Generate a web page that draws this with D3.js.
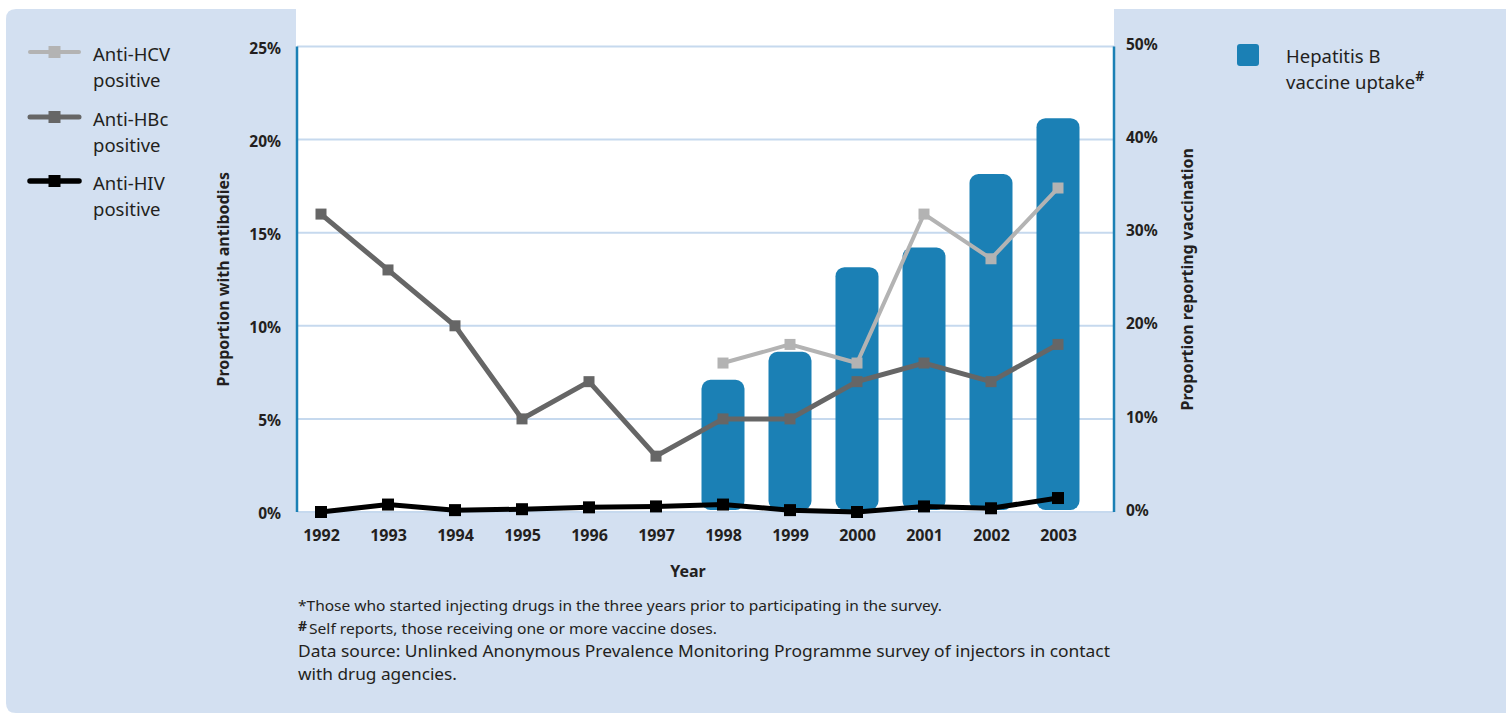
<!DOCTYPE html>
<html>
<head>
<meta charset="utf-8">
<script src="https://cdn.jsdelivr.net/npm/d3@7"></script>
<style>
  html, body { margin: 0; padding: 0; background: #ffffff; }
  svg { display: block; }
  text { font-family: "Noto Sans", "Open Sans", sans-serif; fill: #231f20; }
</style>
</head>
<body>
<svg id="chart" width="1506" height="713"></svg>
<script>
// Survey years
const years = [1992, 1993, 1994, 1995, 1996, 1997, 1998, 1999, 2000, 2001, 2002, 2003];

// Antibody prevalence (% of recent injectors), left axis
const antiHCV = [null, null, null, null, null, null, 8, 9, 8, 16, 13.6, 17.4];
const antiHBc = [16, 13, 10, 5, 7, 3, 5, 5, 7, 8, 7, 9];
const antiHIV = [0, 0.4, 0.1, 0.15, 0.25, 0.3, 0.4, 0.1, 0, 0.3, 0.2, 0.75];

// Hepatitis B vaccine uptake (% reporting vaccination), right axis
const vaccineYears = [1998, 1999, 2000, 2001, 2002, 2003];
const vaccineUptake = [14.2, 17.2, 26.3, 28.4, 36.3, 42.3];

// Axis ticks
const leftTicks = [0, 5, 10, 15, 20, 25];
const rightTicks = [0, 10, 20, 30, 40, 50];

// Legend entries
const lineLegend = [
  { name: ["Anti-HCV", "positive"], color: "#b3b3b3", width: 4 },
  { name: ["Anti-HBc", "positive"], color: "#666666", width: 5 },
  { name: ["Anti-HIV", "positive"], color: "#000000", width: 5.5 }
];

const footnotes = [
  { text: "*Those who started injecting drugs in the three years prior to participating in the survey.", size: 15, len: 644 },
  { text: "Self reports, those receiving one or more vaccine doses.", size: 15, len: 408, hash: true },
  { text: "Data source: Unlinked Anonymous Prevalence Monitoring Programme survey of injectors in contact", size: 16.5, len: 812 },
  { text: "with drug agencies.", size: 16.5, len: 159 }
];

const svg = d3.select("#chart");
const panelColor = "#d3e0f1";
const blue = "#1b80b5";
const gridColor = "#c6d9ee";

// Background panel with rounded left corners
svg.append("path")
  .attr("d", "M 16 9 H 1506 V 713 H 16 Q 6 713 6 703 V 19 Q 6 9 16 9 Z")
  .attr("fill", panelColor);

// Plot area
const plot = { left: 297, right: 1114, top: 0, bottom: 512 };
svg.append("rect")
  .attr("x", plot.left - 1).attr("y", 0)
  .attr("width", plot.right - plot.left + 1).attr("height", plot.bottom)
  .attr("fill", "#ffffff");

const x = d3.scalePoint().domain(years).range([321, 1058]);
const yL = d3.scaleLinear().domain([0, 25]).range([512, 46.5]);
const yR = d3.scaleLinear().domain([0, 50]).range([512, 46.5]);

// Gridlines
svg.append("g").selectAll("line")
  .data(leftTicks)
  .join("line")
  .attr("x1", plot.left).attr("x2", plot.right)
  .attr("y1", d => yL(d)).attr("y2", d => yL(d))
  .attr("stroke", gridColor).attr("stroke-width", 2);

// Left axis
const leftAxis = svg.append("g")
  .attr("transform", `translate(${plot.left},0)`)
  .call(d3.axisLeft(yL).tickValues(leftTicks).tickSize(0).tickPadding(16).tickFormat(d => d + "%"));
leftAxis.select(".domain").attr("stroke", blue).attr("stroke-width", 2.5)
  .attr("d", `M0,${yL(25)}V${yL(0)}`);
leftAxis.selectAll("text")
  .attr("font-size", 15.5).attr("font-weight", "bold")
  .attr("dy", "0.45em").style("fill", "#231f20");

// Right axis
const rightAxis = svg.append("g")
  .attr("transform", `translate(${plot.right},0)`)
  .call(d3.axisRight(yR).tickValues(rightTicks).tickSize(0).tickPadding(12).tickFormat(d => d + "%"));
rightAxis.select(".domain").attr("stroke", blue).attr("stroke-width", 2.5)
  .attr("d", `M0,${yR(50)}V${yR(0)}`);
rightAxis.selectAll("text")
  .attr("font-size", 15.5).attr("font-weight", "bold")
  .attr("dy", "0.2em").style("fill", "#231f20");

// Bottom axis (labels only)
const bottomAxis = svg.append("g")
  .attr("transform", `translate(0,${plot.bottom})`)
  .call(d3.axisBottom(x).tickSize(0).tickPadding(18).tickFormat(d3.format("d")));
bottomAxis.select(".domain").remove();
bottomAxis.selectAll("text")
  .attr("font-size", 16).attr("font-weight", "bold").style("fill", "#231f20");

// Axis titles
svg.append("text")
  .attr("transform", `translate(229,${yL(12.5)}) rotate(-90)`)
  .attr("text-anchor", "middle")
  .attr("font-size", 16).attr("font-weight", "bold")
  .text("Proportion with antibodies");

svg.append("text")
  .attr("transform", `translate(1193,${yR(25)}) rotate(-90)`)
  .attr("text-anchor", "middle")
  .attr("font-size", 16).attr("font-weight", "bold")
  .text("Proportion reporting vaccination");

svg.append("text")
  .attr("x", 688).attr("y", 577)
  .attr("text-anchor", "middle")
  .attr("font-size", 16).attr("font-weight", "bold")
  .text("Year");

// Vaccine uptake bars
const barW = 43;
svg.append("g").selectAll("rect")
  .data(vaccineYears.map((yr, i) => ({ yr, v: vaccineUptake[i] })))
  .join("rect")
  .attr("x", d => x(d.yr) - barW / 2)
  .attr("y", d => yR(d.v))
  .attr("width", barW)
  .attr("height", d => yR(0) - 2 - yR(d.v))
  .attr("rx", 9).attr("ry", 9)
  .attr("fill", blue);

// Antibody lines with square markers
function drawSeries(values, color, width, markerSize) {
  const pts = years.map((yr, i) => ({ yr, v: values[i] })).filter(d => d.v !== null);
  const line = d3.line().x(d => x(d.yr)).y(d => yL(d.v));
  const g = svg.append("g");
  g.append("path")
    .datum(pts)
    .attr("d", line)
    .attr("fill", "none")
    .attr("stroke", color)
    .attr("stroke-width", width)
    .attr("stroke-linejoin", "miter");
  g.selectAll("rect")
    .data(pts)
    .join("rect")
    .attr("x", d => x(d.yr) - markerSize / 2)
    .attr("y", d => yL(d.v) - markerSize / 2)
    .attr("width", markerSize).attr("height", markerSize)
    .attr("fill", color);
}
drawSeries(antiHCV, "#b3b3b3", 4, 11);
drawSeries(antiHBc, "#666666", 5, 11);
drawSeries(antiHIV, "#000000", 5, 12);

// Line legend
const legendY = [52, 117, 181];
const lg = svg.append("g");
lineLegend.forEach((d, i) => {
  const cy = legendY[i];
  lg.append("line")
    .attr("x1", 30).attr("x2", 79).attr("y1", cy).attr("y2", cy)
    .attr("stroke", d.color).attr("stroke-width", d.width).attr("stroke-linecap", "round");
  lg.append("rect")
    .attr("x", 54.5 - 6).attr("y", cy - 6)
    .attr("width", 12).attr("height", 12)
    .attr("fill", d.color);
  const t = lg.append("text")
    .attr("x", 93).attr("y", cy + 9)
    .attr("font-size", 18.5);
  t.append("tspan").attr("x", 93).text(d.name[0]);
  t.append("tspan").attr("x", 93).attr("dy", 26).text(d.name[1]);
});

// Bar legend
svg.append("rect")
  .attr("x", 1237).attr("y", 44)
  .attr("width", 22).attr("height", 22)
  .attr("rx", 3).attr("ry", 3)
  .attr("fill", blue);
const bt = svg.append("text").attr("x", 1286).attr("y", 63).attr("font-size", 18.5);
bt.append("tspan").attr("x", 1286).text("Hepatitis B");
bt.append("tspan").attr("x", 1286).attr("dy", 26).text("vaccine uptake");
bt.append("tspan").attr("dy", -8).attr("font-size", 14).attr("font-weight", "bold").text("#");

// Footnotes
const fnY = [611, 634, 657, 680];
footnotes.forEach((f, i) => {
  if (f.hash) {
    svg.append("text")
      .attr("x", 298).attr("y", fnY[i] - 3)
      .attr("font-size", 14).attr("font-weight", "bold")
      .text("#");
    svg.append("text")
      .attr("x", 309).attr("y", fnY[i])
      .attr("font-size", f.size)
      .attr("textLength", f.len).attr("lengthAdjust", "spacingAndGlyphs")
      .text(f.text);
  } else {
    svg.append("text")
      .attr("x", 298).attr("y", fnY[i])
      .attr("font-size", f.size)
      .attr("textLength", f.len).attr("lengthAdjust", "spacingAndGlyphs")
      .text(f.text);
  }
});
</script>
</body>
</html>
